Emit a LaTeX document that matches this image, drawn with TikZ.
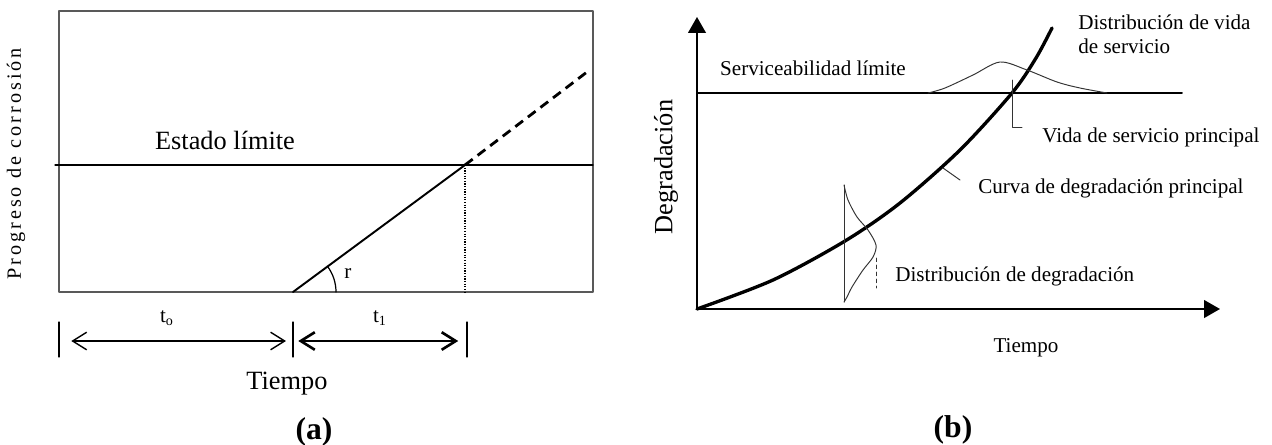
\documentclass[tikz,border=0pt]{standalone}
\usepackage{fontspec}
\setmainfont{Liberation Serif}
\usetikzlibrary{arrows.meta}
\tikzset{
    txt/.style = {inner sep=0pt, font=\fontsize{12}{13.5}\selectfont},
    bigtxt/.style = {inner sep=0pt, font=\fontsize{15}{18}\selectfont},
    tag/.style = {inner sep=0pt, font=\fontsize{18}{20}\selectfont\bfseries},
    dimline/.style = {{Straight Barb[length=8pt,width=10pt]}-{Straight Barb[length=8pt,width=10pt]}},
    axis/.style = {line width=1.1pt, -{Triangle[length=9pt,width=10pt]}},
    thin/.style = {line width=0.55pt, black!80}
}
\begin{document}
\begin{tikzpicture}[line cap=round,line join=round,x=0.02cm,y=-0.02cm]
\useasboundingbox (0,0) rectangle (1272,444);
\draw [line width=0.7pt, black!65] (59,11) rectangle (593,292);
\draw [line width=0.7pt] (55,165)-- (593,165);
\coordinate (o) at (293,292);
\coordinate (x) at (465,165);
\draw [line width=1.1pt] (o)-- (x);
\draw [line width=1.6pt, dash pattern=on 5.5pt off 3.5pt, line cap=butt] (x)-- (587,72);
\draw [line width=1.4pt, dash pattern=on 0.7pt off 0.8pt, line cap=butt] (x)-- (465,292);
\draw [line width=0.7pt] (336,292) arc[start angle=0, end angle=-37, radius=43];
\node [txt] (r) at (348,274) {r};
\node [bigtxt] (estado) at (225,140) {Estado límite};
\node [inner sep=0pt, rotate=90, font=\fontsize{11.5}{13}\selectfont\addfontfeature{LetterSpace=15}] (prog) at (16,164) {Progreso de corrosión};
\coordinate (ta) at (59,341);
\coordinate (tb) at (293,341);
\coordinate (tc) at (467,341);
\draw [line width=0.7pt] (59,322)-- (59,357);
\draw [line width=0.7pt] (293,322)-- (293,357);
\draw [line width=0.7pt] (467,322)-- (467,357);
\draw [dimline, line width=0.8pt, shorten <=7pt, shorten >=4pt] (ta)-- (tb);
\draw [dimline, line width=1.5pt, shorten <=3pt, shorten >=5pt] (tb)-- (tc);
\node [txt] (to) at (167,318) {t\textsubscript{o}};
\node [txt] (t1) at (380,318) {t\textsubscript{1}};
\node [bigtxt] (tiempoa) at (287,384) {Tiempo};
\node [tag] (a) at (314,432) {(a)};
\coordinate (O) at (697,309);
\draw [axis] (O)-- (697,17);
\draw [axis] (O)-- (1220,309);
\draw [line width=1.1pt] (697,93)-- (1182,93);
\draw [line width=1.9pt] plot[smooth] coordinates {(697,309) (773,280) (845,241) (900,203) (960,150) (1012,93) (1036,58) (1052,28)};
\draw [thin] plot[smooth] coordinates {(928,93) (945,88) (973,75) (1000,62) (1027,70) (1057,82) (1080,88) (1107,93)};
\draw [thin] (844,185)-- (844,302);
\draw [thin] plot[smooth] coordinates {(844,185) (848,200) (857,217) (868,230) (876,245) (873,257) (863,270) (852,287) (847,297) (844,302)};
\draw [thin, dash pattern=on 2pt off 2pt] (876,258)-- (876,288);
\draw [thin] (1012,80)-- (1012,127)-- (1022,127);
\draw [thin] (943,168)-- (960,180);
\node [txt] (serv) at (813,68) {Serviceabilidad límite};
\node [bigtxt, rotate=90] (degr) at (666,167) {Degradación};
\node [txt, anchor=west, align=left] (distvida) at (1078,34) {Distribución de vida\\de servicio};
\node [txt, anchor=west] (vida) at (1042,137) {Vida de servicio principal};
\node [txt, anchor=west] (curva) at (978,188) {Curva de degradación principal};
\node [txt, anchor=west] (distdeg) at (895,276) {Distribución de degradación};
\node [txt] (tiempob) at (1026,348) {Tiempo};
\node [tag] (b) at (953,430) {(b)};
\end{tikzpicture}
\end{document}
